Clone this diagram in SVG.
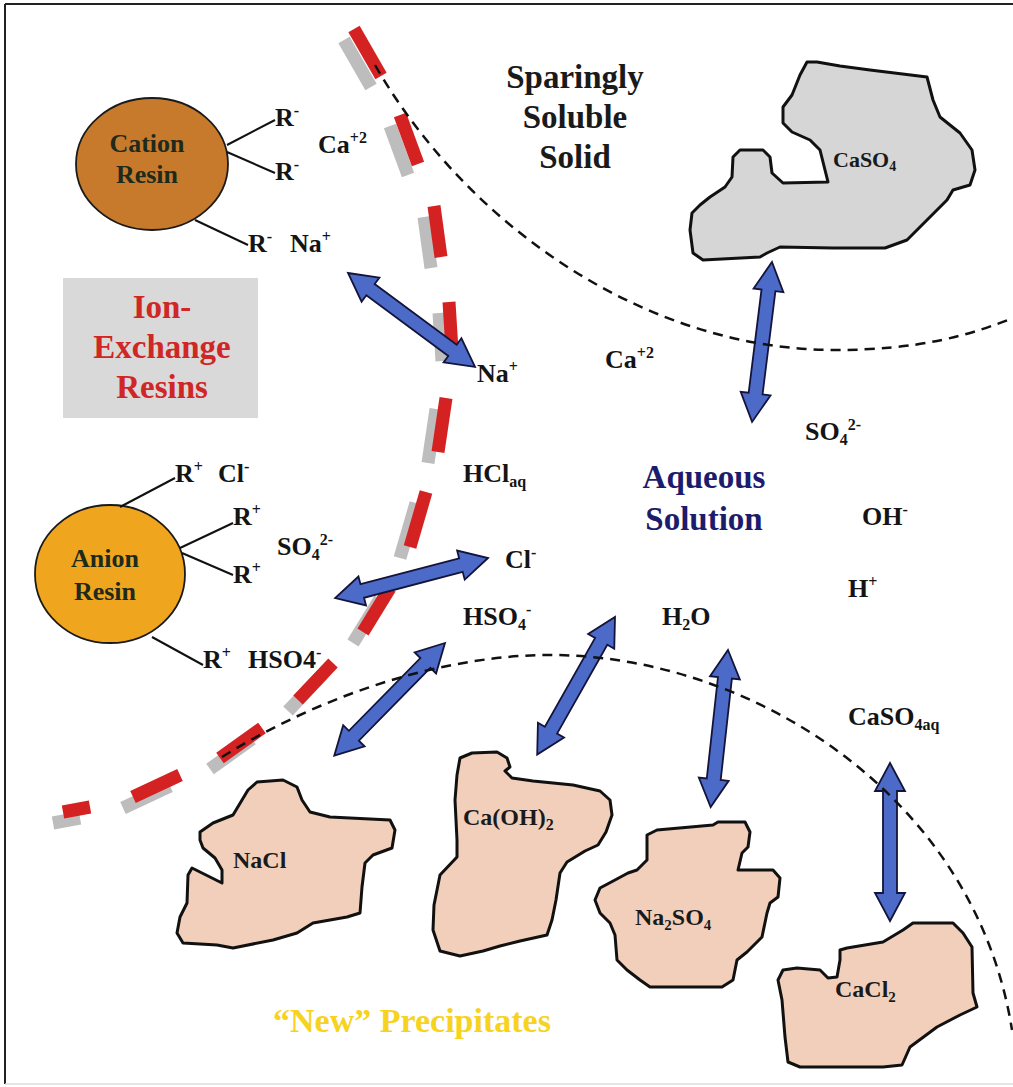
<svg xmlns="http://www.w3.org/2000/svg" width="1013" height="1087" viewBox="0 0 1013 1087">
<defs>
<style>
text{font-family:"Liberation Serif","Times New Roman",serif;font-weight:bold;}
.ion{font-size:26px;fill:#141414;}
.sup{font-size:16px;}
.sub{font-size:16px;}
.big{font-size:33px;text-anchor:middle;}
.res{font-size:26px;fill:#1d2a1c;text-anchor:middle;}
.blt{font-size:24px;fill:#1a1a1a;}
.red{fill:#d02626;}
.navy{fill:#1c1c6c;}
.blk{fill:#1a1a1a;}
.yel{fill:#f7d21e;font-size:34px;}
.blob{stroke:#111;stroke-width:3;stroke-linejoin:round;}
.pe{fill:#f1cfbb;}
.gr{fill:#d6d6d6;}
.arw{fill:#4c6bc8;stroke:#14143a;stroke-width:1.8;stroke-linejoin:miter;}
.rd{stroke:#d42222;stroke-width:13;}
.sh{stroke:#bdbdbd;stroke-width:13;}
.bd{fill:none;stroke:#111;stroke-width:2.5;stroke-dasharray:10 7;}
.ln{stroke:#111;stroke-width:2;}
</style>
<polygon id="dbl" points="0,0 28,-15 28,-7 130,-7 130,-15 158,0 130,15 130,7 28,7 28,15"/>
</defs>
<rect width="1013" height="1087" fill="#ffffff"/>
<g id="frame">
<line x1="5" y1="4" x2="1013" y2="4" stroke="#222" stroke-width="2"/>
<line x1="5" y1="4" x2="5" y2="1084" stroke="#222" stroke-width="2"/>
<line x1="5" y1="1084" x2="1013" y2="1084" stroke="#ddd" stroke-width="1.5"/>
</g>

<g id="ion-exchange-box">
<rect x="63" y="278" width="195" height="140" fill="#d9d9d9"/>
<text class="big red" x="162" y="318">Ion-</text>
<text class="big red" x="162" y="358">Exchange</text>
<text class="big red" x="162" y="398">Resins</text>
</g>

<g id="membrane">
<g transform="translate(-10,11)">
<line class="sh" x1="354" y1="29" x2="381" y2="76"/>
<line class="sh" x1="400" y1="115" x2="418" y2="164"/>
<line class="sh" x1="434" y1="206" x2="441" y2="257"/>
<line class="sh" x1="449" y1="302" x2="452" y2="350"/>
<line class="sh" x1="446" y1="398" x2="438" y2="452"/>
<line class="sh" x1="426" y1="492" x2="410" y2="547"/>
<line class="sh" x1="390" y1="588" x2="363" y2="632"/>
<line class="sh" x1="333" y1="663" x2="298" y2="700"/>
<line class="sh" x1="262" y1="728" x2="220" y2="758"/>
<line class="sh" x1="180" y1="775" x2="133" y2="797"/>
<line class="sh" x1="90" y1="807" x2="63" y2="812"/>
</g>
<line class="rd" x1="354" y1="29" x2="381" y2="76"/>
<line class="rd" x1="400" y1="115" x2="418" y2="164"/>
<line class="rd" x1="434" y1="206" x2="441" y2="257"/>
<line class="rd" x1="449" y1="302" x2="452" y2="350"/>
<line class="rd" x1="446" y1="398" x2="438" y2="452"/>
<line class="rd" x1="426" y1="492" x2="410" y2="547"/>
<line class="rd" x1="390" y1="588" x2="363" y2="632"/>
<line class="rd" x1="333" y1="663" x2="298" y2="700"/>
<line class="rd" x1="262" y1="728" x2="220" y2="758"/>
<line class="rd" x1="180" y1="775" x2="133" y2="797"/>
<line class="rd" x1="90" y1="807" x2="63" y2="812"/>
</g>

<g id="cation-resin">
<ellipse cx="152" cy="164" rx="76" ry="66" fill="#c77a2c" stroke="#1a1a1a" stroke-width="1.8"/>
<text class="res" x="147" y="152">Cation</text>
<text class="res" x="147" y="183">Resin</text>
<line class="ln" x1="227" y1="145" x2="275" y2="120"/>
<line class="ln" x1="227" y1="152" x2="275" y2="173"/>
<line class="ln" x1="195" y1="220" x2="248" y2="245"/>
</g>

<g id="anion-resin">
<ellipse cx="110" cy="574" rx="75" ry="69" fill="#f0a51f" stroke="#1a1a1a" stroke-width="1.8"/>
<text class="res" x="105" y="567">Anion</text>
<text class="res" x="105" y="600">Resin</text>
<line class="ln" x1="120" y1="507" x2="175" y2="478"/>
<line class="ln" x1="180" y1="548" x2="233" y2="523"/>
<line class="ln" x1="182" y1="553" x2="233" y2="575"/>
<line class="ln" x1="152" y1="637" x2="203" y2="665"/>
</g>

<g id="caso4-solid">
<polygon class="blob gr" points="692,213 700,205 710,197 725,187 732,177 733,157 740,150 763,150 770,157 772,173 783,183 828,182 820,150 810,140 792,132 783,123 783,107 792,95 800,75 807,62 817,62 840,66 870,70 927,77 933,100 940,117 960,133 972,150 975,170 970,185 953,190 947,200 927,220 907,240 885,248 833,248 780,247 767,253 760,257 703,260 693,253 690,230"/>
<text class="blk" x="833" y="167" font-size="22">CaSO<tspan font-size="14" dy="4">4</tspan></text>
</g>

<g id="nacl">
<polygon class="blob pe" points="200,832 213,823 233,815 248,790 257,782 283,780 297,787 302,800 310,812 330,817 390,820 395,830 392,848 373,855 365,863 362,887 360,913 347,917 313,923 297,933 273,940 233,948 217,945 183,943 177,933 180,917 187,903 188,875 192,868 222,883 222,870 215,858 203,848 200,840"/>
<text class="blt" x="233" y="868">NaCl</text>
</g>

<g id="caoh2">
<polygon class="blob pe" points="460,758 472,753 497,752 507,758 510,767 505,771 512,778 533,781 573,785 600,791 610,800 612,815 606,832 598,845 585,851 567,862 560,873 556,900 552,920 547,935 520,941 500,946 483,951 460,956 440,951 433,930 434,905 440,875 457,857 457,840 455,800 457,775"/>
<text class="blt" x="463" y="825" font-size="25">Ca(OH)<tspan font-size="16" dy="5">2</tspan></text>
</g>

<g id="na2so4">
<polygon class="blob pe" points="647,835 657,830 713,825 718,822 745,822 750,832 748,847 742,853 738,870 773,870 780,878 778,897 770,903 767,913 762,937 747,952 737,960 733,980 722,987 650,987 640,980 627,970 617,960 615,935 610,923 600,913 595,900 600,888 615,880 628,873 637,870 647,860"/>
<text class="blt" x="635" y="925">Na<tspan font-size="15" dy="5">2</tspan><tspan dy="-5">SO</tspan><tspan font-size="15" dy="5">4</tspan></text>
</g>

<g id="cacl2">
<polygon class="blob pe" points="840,950 847,948 883,942 903,930 913,923 953,923 963,933 972,947 973,993 977,1007 960,1015 937,1027 910,1047 902,1065 883,1067 800,1067 788,1062 785,1037 782,1000 778,980 783,970 797,968 820,970 828,978 837,977 840,960"/>
<text class="blt" x="835" y="997">CaCl<tspan font-size="15" dy="5">2</tspan></text>
</g>

<g id="connectors">
<use href="#dbl" class="arw" transform="translate(348 273) rotate(36.5)"/>
<use href="#dbl" class="arw" transform="translate(772 262) rotate(97.1) scale(1.02 1)"/>
<use href="#dbl" class="arw" transform="translate(488 558) rotate(165.3)"/>
<use href="#dbl" class="arw" transform="translate(445 643) rotate(134.5)"/>
<use href="#dbl" class="arw" transform="translate(615 617) rotate(119.5)"/>
<use href="#dbl" class="arw" transform="translate(728 650) rotate(96.3)"/>
<use href="#dbl" class="arw" transform="translate(890 763) rotate(90)"/>
</g>

<g id="boundaries">
<path class="bd" d="M 375,65 C 470,230 650,350 835,350 C 920,350 970,335 1013,318"/>
<path class="bd" d="M 222,757 C 330,690 450,655 550,655 C 750,655 975,795 1012,1030"/>
</g>

<g id="labels">
<text class="big blk" x="575" y="88">Sparingly</text>
<text class="big blk" x="575" y="128">Soluble</text>
<text class="big blk" x="575" y="168">Solid</text>
<text class="big navy" x="704" y="488">Aqueous</text>
<text class="big navy" x="704" y="530">Solution</text>
<text class="yel" x="273" y="1032">“New” Precipitates</text>

<text class="ion" x="275" y="126">R<tspan class="sup" dy="-10">-</tspan></text>
<text class="ion" x="318" y="153">Ca<tspan class="sup" dy="-10">+2</tspan></text>
<text class="ion" x="275" y="180">R<tspan class="sup" dy="-10">-</tspan></text>
<text class="ion" x="248" y="252">R<tspan class="sup" dy="-10">-</tspan></text>
<text class="ion" x="290" y="252">Na<tspan class="sup" dy="-10">+</tspan></text>
<text class="ion" x="477" y="382">Na<tspan class="sup" dy="-10">+</tspan></text>
<text class="ion" x="605" y="368">Ca<tspan class="sup" dy="-10">+2</tspan></text>
<text class="ion" x="805" y="440">SO<tspan class="sub" dy="5">4</tspan><tspan class="sup" dy="-15">2-</tspan></text>
<text class="ion" x="463" y="482">HCl<tspan class="sub" dy="5">aq</tspan></text>
<text class="ion" x="505" y="568">Cl<tspan class="sup" dy="-10">-</tspan></text>
<text class="ion" x="463" y="625">HSO<tspan class="sub" dy="5">4</tspan><tspan class="sup" dy="-15">-</tspan></text>
<text class="ion" x="662" y="625">H<tspan class="sub" dy="5">2</tspan><tspan dy="-5">O</tspan></text>
<text class="ion" x="862" y="525">OH<tspan class="sup" dy="-10">-</tspan></text>
<text class="ion" x="848" y="597">H<tspan class="sup" dy="-10">+</tspan></text>
<text class="ion" x="848" y="725">CaSO<tspan class="sub" dy="5">4aq</tspan></text>

<text class="ion" x="175" y="482">R<tspan class="sup" dy="-10">+</tspan></text>
<text class="ion" x="218" y="482">Cl<tspan class="sup" dy="-10">-</tspan></text>
<text class="ion" x="233" y="525">R<tspan class="sup" dy="-10">+</tspan></text>
<text class="ion" x="277" y="555">SO<tspan class="sub" dy="5">4</tspan><tspan class="sup" dy="-15">2-</tspan></text>
<text class="ion" x="233" y="583">R<tspan class="sup" dy="-10">+</tspan></text>
<text class="ion" x="203" y="668">R<tspan class="sup" dy="-10">+</tspan></text>
<text class="ion" x="248" y="668">HSO4<tspan class="sup" dy="-10">-</tspan></text>
</g>
</svg>
